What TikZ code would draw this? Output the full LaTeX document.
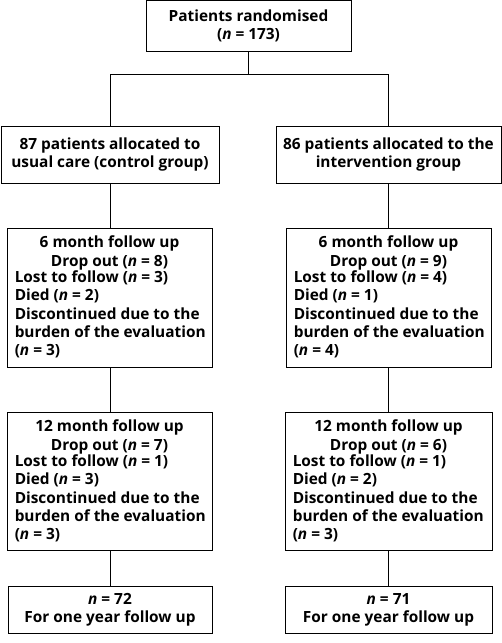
\documentclass[tikz,border=0pt]{standalone}
\usepackage{fontspec}
\setmainfont{Open Sans}
\begin{document}
\begin{tikzpicture}[x=1pt,y=-1pt,
  box/.style={draw,line width=0.9pt,inner sep=0pt},
  txt/.style={inner sep=0pt,font=\bfseries\fontsize{15.4}{18.5}\selectfont},
  btxt/.style={inner sep=0pt,align=left,anchor=north west,font=\bfseries\fontsize{15.4}{18.3}\selectfont},
  ln/.style={line width=0.9pt}]
\useasboundingbox[fill=white] (0,0) rectangle (502,643);
% top
\node[box,minimum width=205pt,minimum height=51pt] (top) at (248.5,26.2) {};
\node[txt,align=center,anchor=center] (topt) at (248.5,26) {Patients randomised\\(\textit{n} = 173)};
% allocation
\node[box,minimum width=218pt,minimum height=57pt] (al) at (110,154.5) {};
\node[txt,align=center] (alt) at (110,154.5) {87 patients allocated to\\usual care (control group)};
\node[box,minimum width=225pt,minimum height=57pt] (ar) at (388.5,154.5) {};
\node[txt,align=center] (art) at (388.5,154.5) {86 patients allocated to the\\intervention group};
% 6 month
\node[box,minimum width=205pt,minimum height=139pt] (sl) at (109.5,297.5) {};
\node[txt,align=center,anchor=north] (slh) at ([yshift=-8pt]sl.north) {6 month follow up\\Drop out (\textit{n} = 8)};
\node[btxt] (slb) at ([xshift=8pt,yshift=-43pt]sl.north west) {Lost to follow (\textit{n} = 3)\\Died (\textit{n} = 2)\\Discontinued due to the\\burden of the evaluation\\(\textit{n} = 3)};
\node[box,minimum width=205pt,minimum height=139pt] (sr) at (388.5,297.5) {};
\node[txt,align=center,anchor=north] (srh) at ([yshift=-8pt]sr.north) {6 month follow up\\Drop out (\textit{n} = 9)};
\node[btxt] (srb) at ([xshift=8pt,yshift=-43pt]sr.north west) {Lost to follow (\textit{n} = 4)\\Died (\textit{n} = 1)\\Discontinued due to the\\burden of the evaluation\\(\textit{n} = 4)};
% 12 month
\node[box,minimum width=205pt,minimum height=138pt] (tl) at (109.5,481) {};
\node[txt,align=center,anchor=north] (tlh) at ([yshift=-8pt]tl.north) {12 month follow up\\Drop out (\textit{n} = 7)};
\node[btxt] (tlb) at ([xshift=8pt,yshift=-43pt]tl.north west) {Lost to follow (\textit{n} = 1)\\Died (\textit{n} = 3)\\Discontinued due to the\\burden of the evaluation\\(\textit{n} = 3)};
\node[box,minimum width=207pt,minimum height=138pt] (tr) at (388.5,481) {};
\node[txt,align=center,anchor=north] (trh) at ([yshift=-8pt]tr.north) {12 month follow up\\Drop out (\textit{n} = 6)};
\node[btxt] (trb) at ([xshift=8pt,yshift=-43pt]tr.north west) {Lost to follow (\textit{n} = 1)\\Died (\textit{n} = 2)\\Discontinued due to the\\burden of the evaluation\\(\textit{n} = 3)};
% final
\node[box,minimum width=204pt,minimum height=47pt] (fl) at (110,609.5) {};
\node[txt,align=center] (flt) at (110,610) {\textit{n} = 72\\For one year follow up};
\node[box,minimum width=207pt,minimum height=47pt] (fr) at (388.5,609.5) {};
\node[txt,align=center] (frt) at (388.5,610) {\textit{n} = 71\\For one year follow up};
% connectors
\coordinate (j) at (248.5,74);
\draw[ln] (top.south) -- (j);
\draw[ln] (al.north) -- (al.north |- j) -- (ar.north |- j) -- (ar.north);
\draw[ln] (al.south) -- (al.south |- sl.north);
\draw[ln] (ar.south) -- (ar.south |- sr.north);
\draw[ln] (al.south |- sl.south) -- (al.south |- tl.north);
\draw[ln] (ar.south |- sr.south) -- (ar.south |- tr.north);
\draw[ln] (al.south |- tl.south) -- (al.south |- fl.north);
\draw[ln] (ar.south |- tr.south) -- (ar.south |- fr.north);
\end{tikzpicture}
\end{document}
